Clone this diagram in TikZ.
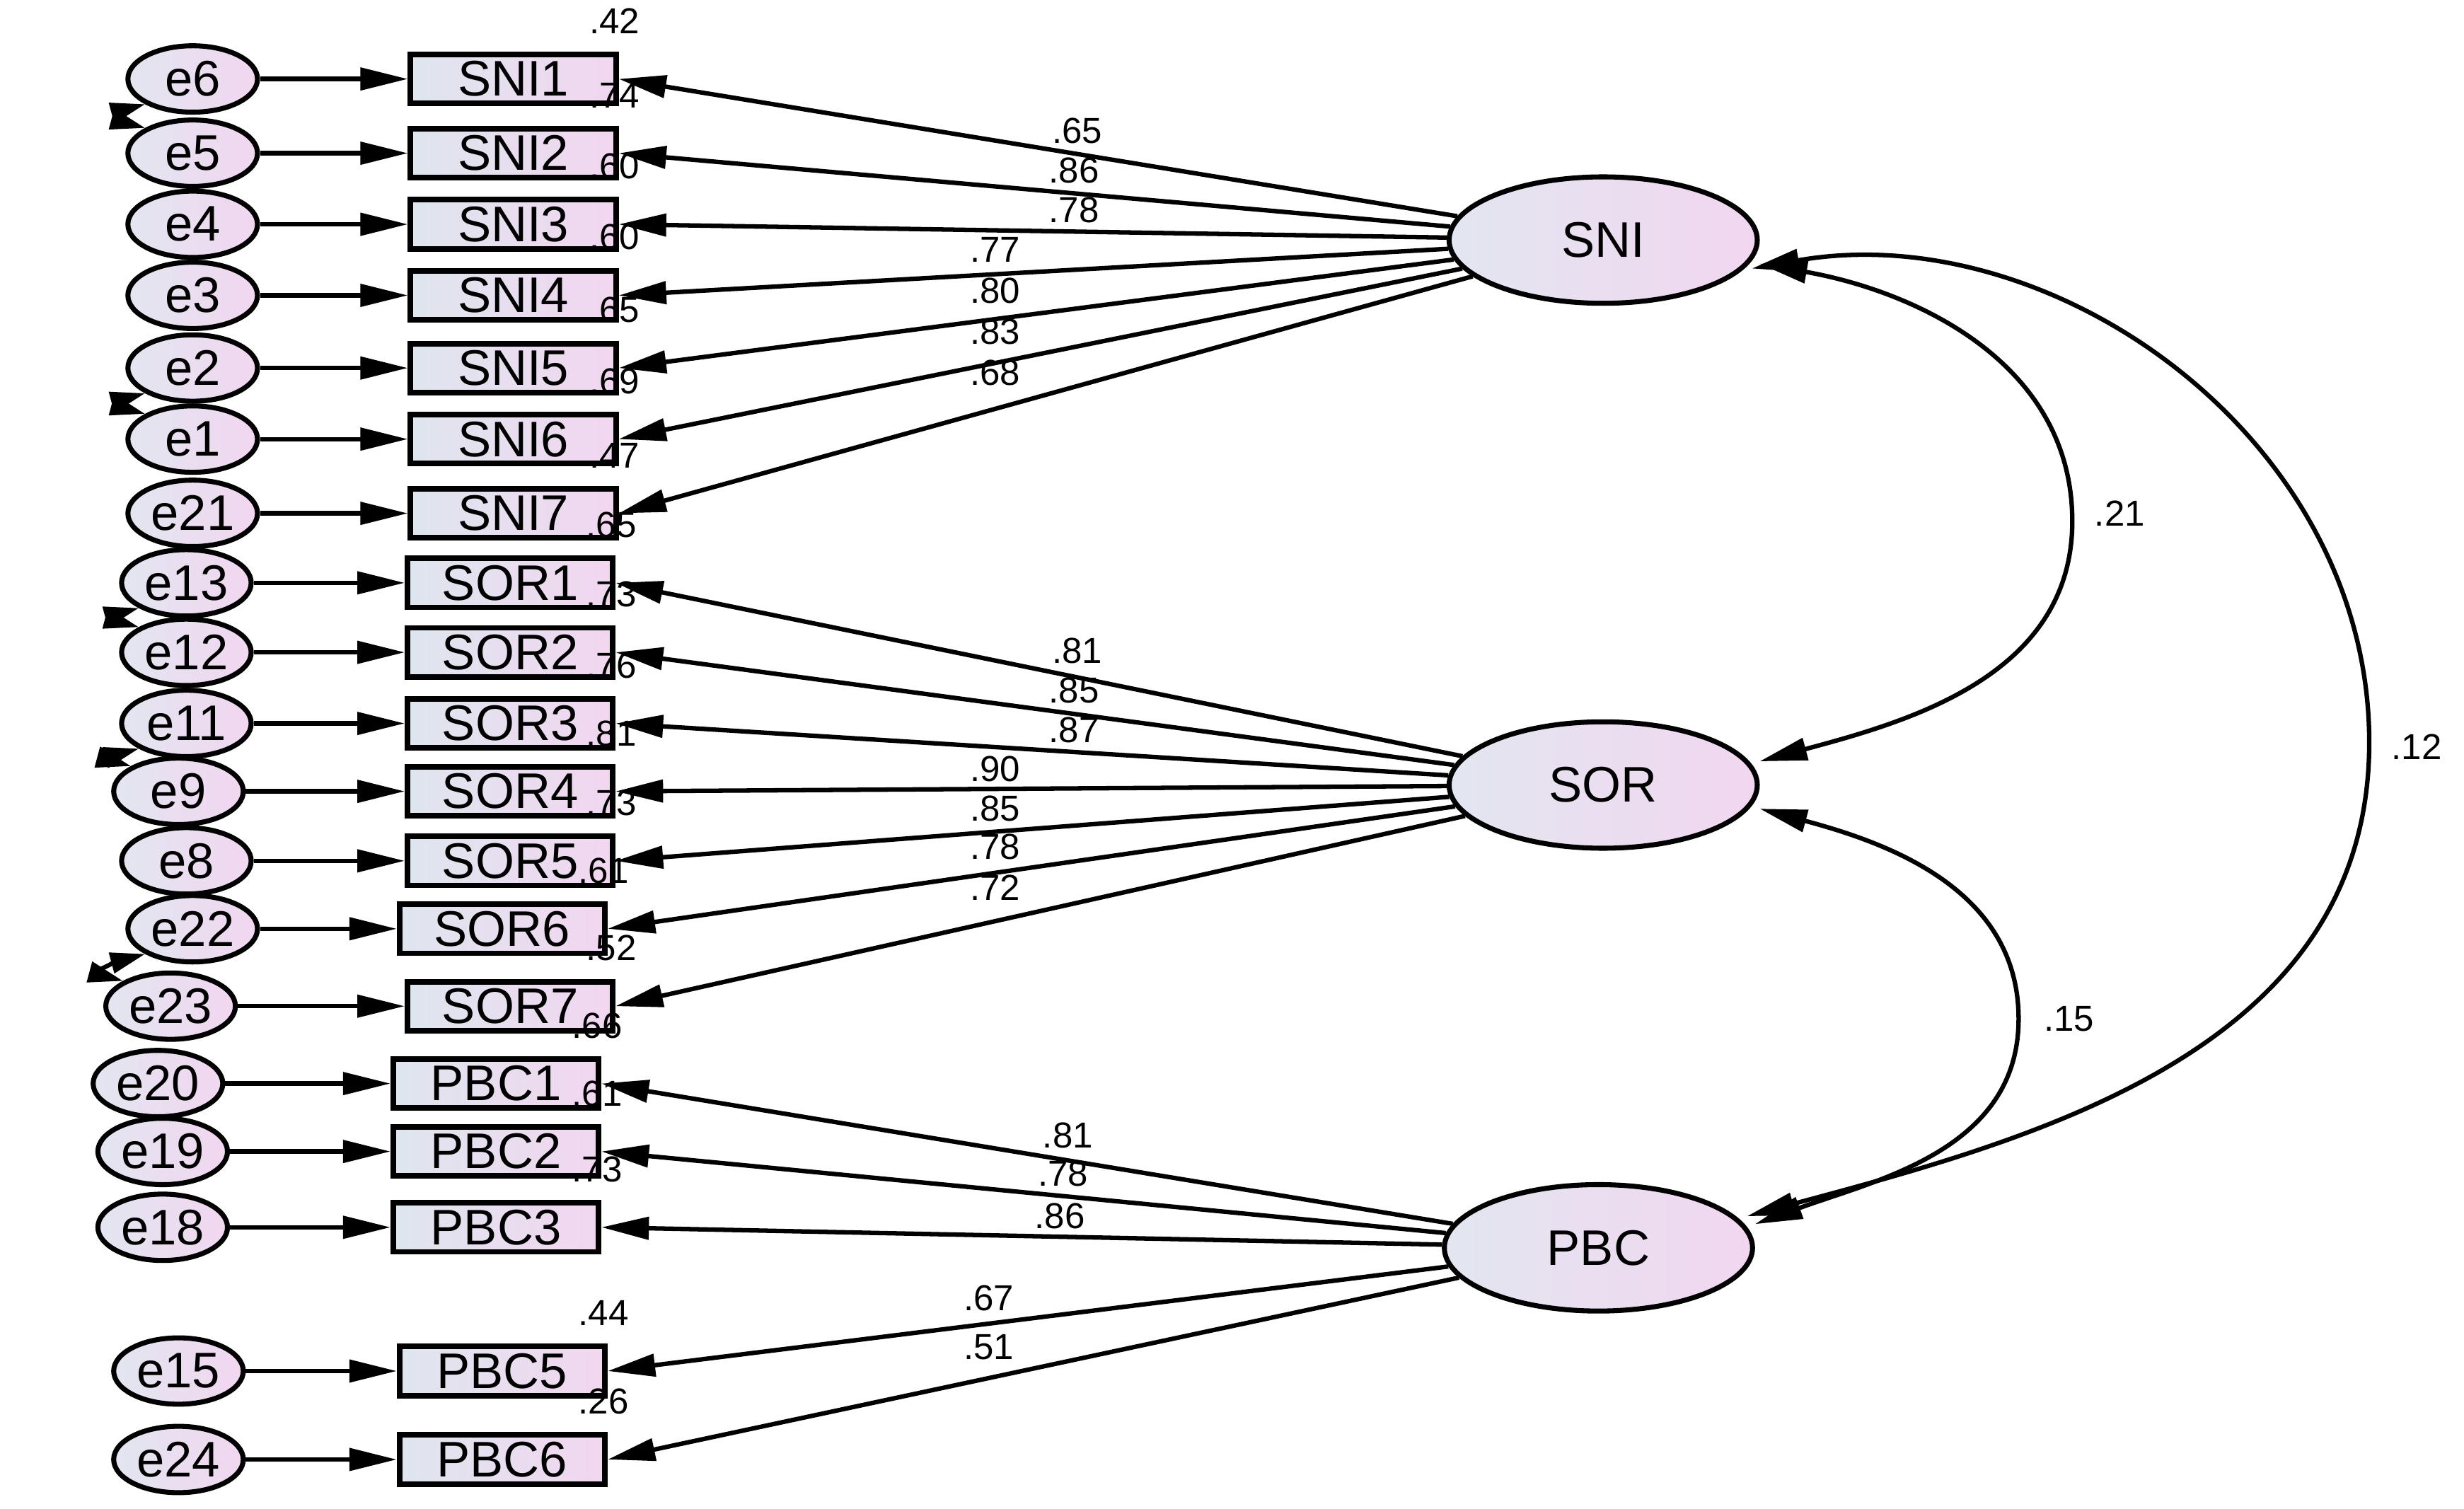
\documentclass[tikz,border=0pt]{standalone}
\usepackage{fontspec}
\setmainfont{Liberation Sans}
\usetikzlibrary{arrows.meta,shapes.geometric}
\begin{document}
\begin{tikzpicture}[x=0.01cm,y=-0.01cm,
  tip/.style={-{Triangle[length=0.3cm,width=0.14cm]}},
  dtip/.style={{Triangle[length=0.3cm,width=0.14cm]}-{Triangle[length=0.3cm,width=0.14cm]}},
  ctip/.style={{Triangle[length=0.22cm,width=0.13cm]}-{Triangle[length=0.22cm,width=0.13cm]}},
  err/.style={ellipse,draw,line width=0.9pt,minimum width=0.82cm,minimum height=0.42cm,inner sep=0pt,left color={rgb,255:red,226;green,230;blue,240},right color={rgb,255:red,242;green,214;blue,240},font=\fontsize{9}{10}\selectfont},
  obs/.style={rectangle,draw,line width=1pt,minimum width=1.3cm,minimum height=0.31cm,inner sep=0pt,left color={rgb,255:red,222;green,230;blue,238},right color={rgb,255:red,242;green,214;blue,240},font=\fontsize{9}{10}\selectfont},
  lat/.style={ellipse,draw,line width=0.9pt,minimum width=1.95cm,minimum height=0.8cm,inner sep=0pt,left color={rgb,255:red,226;green,230;blue,240},right color={rgb,255:red,242;green,214;blue,240},font=\fontsize{9}{10}\selectfont},
  lab/.style={font=\fontsize{6.5}{7}\selectfont,inner sep=0pt},
  line width=0.8pt]
\useasboundingbox (0,0) rectangle (1560,955);
\node[lat] (SNI) at (1015,152) {SNI};
\node[lat] (SOR) at (1015,497) {SOR};
\node[lat] (PBC) at (1012,790) {PBC};
\foreach \n/\ex/\bx/\y/\e/\r/\l/\lx/\ly/\L in {
 SNI1/122/325/50/e6/.42/.65/682/83/SNI, SNI2/122/325/97/e5/.74/.86/680/108/SNI,
 SNI3/122/325/142/e4/.60/.78/680/133/SNI, SNI4/122/325/187/e3/.60/.77/630/158/SNI,
 SNI5/122/325/233/e2/.65/.80/630/184/SNI, SNI6/122/325/278/e1/.69/.83/630/210/SNI,
 SNI7/122/325/325/e21/.47/.68/630/236/SNI,
 SOR1/118/323/369/e13/.65/.81/682/412/SOR, SOR2/118/323/413/e12/.73/.85/680/437/SOR,
 SOR3/118/323/458/e11/.76/.87/680/462/SOR, SOR4/113/323/501/e9/.81/.90/630/487/SOR,
 SOR5/118/323/545/e8/.73/.85/630/512/SOR, SOR6/122/318/588/e22/.61/.78/630/536/SOR,
 SOR7/108/323/637/e23/.52/.72/630/562/SOR,
 PBC1/100/314/686/e20/.66/.81/676/719/PBC, PBC2/103/314/729/e19/.61/.78/673/743/PBC,
 PBC3/103/314/777/e18/.73/.86/671/770/PBC, PBC5/113/318/868/e15/.44/.67/626/822/PBC,
 PBC6/113/318/924/e24/.26/.51/626/853/PBC}{
  \node[obs] (\n) at (\bx,\y) {\n};
  \node[err] (\e) at (\ex,\y) {\e};
  \draw[tip] (\e) -- (\n);
  \draw[tip] (\L) -- (\n.east);
  \node[lab,anchor=south west] (r\n) at ([xshift=-0.2cm,yshift=0.1cm]\n.north east) {\r};
  \node[lab] (l\n) at (\lx,\ly) {\l};
}
\foreach \a/\b in {e6/e5,e2/e1,e13/e12,e11/e9,e22/e23}{
  \draw[ctip] (\a.south west) to[out=195,in=165,looseness=2.2] (\b.north west);
}
\draw[dtip] ([yshift=-0.15cm]SNI.east) to[out=-10,in=90] (1312,330) to[out=-90,in=15] ([yshift=0.15cm]SOR.east);
\node[lab] (c1) at (1342,325) {.21};
\draw[dtip] ([yshift=-0.15cm]SOR.east) to[out=-15,in=90] (1278,645) to[out=-90,in=20] ([yshift=0.15cm]PBC.east);
\node[lab] (c2) at (1310,645) {.15};
\draw[dtip] ([yshift=-0.18cm,xshift=-0.05cm]SNI.east) to[out=10,in=90] (1500,470) to[out=-90,in=15] ([yshift=0.2cm,xshift=-0.05cm]PBC.east);
\node[lab] (c3) at (1530,473) {.12};
\end{tikzpicture}
\end{document}
